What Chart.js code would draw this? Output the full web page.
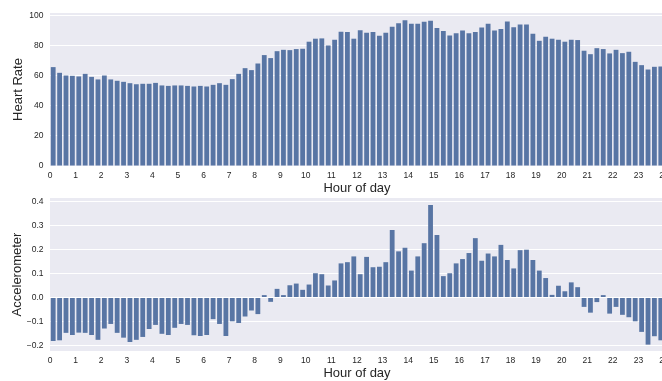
<!DOCTYPE html>
<html>
<head>
<meta charset="utf-8">
<script src="https://cdn.jsdelivr.net/npm/chart.js@4.4.1/dist/chart.umd.min.js"></script>
<style>
html, body { margin: 0; padding: 0; background: #fff; width: 662px; height: 381px; overflow: hidden; position: relative; }
canvas { position: absolute; left: 0; }
#hr { top: 0; }
#acc { top: 185px; }
</style>
</head>
<body>
<canvas id="hr" width="684" height="196"></canvas>
<canvas id="acc" width="684" height="196"></canvas>
<script>
// hour ticks on the x axis
const hourTicks = [0,1,2,3,4,5,6,7,8,9,10,11,12,13,14,15,16,17,18,19,20,21,22,23,24];
const hrTicks = [0, 20, 40, 60, 80, 100];
const accTicks = [-0.2, -0.1, 0, 0.1, 0.2, 0.3, 0.4];

// one value per quarter hour
const heartRate = [
  65.8,62,60.2,60,59.6,61.3,59.3,57.6,60.2,57.6,56.7,56,55.1,54.4,54.7,54.7,
  55.3,53.6,53.3,53.6,53.6,53.3,52.9,53.3,52.9,54,55.1,54,57.8,61.3,65.1,63.8,
  68.2,73.8,71.8,76.4,77.3,77.1,77.8,78,82.7,84.7,84.9,80.2,84,89.3,89.1,84.7,
  90.4,88.7,89.1,86.7,88.7,92.7,94.9,96.9,94.7,94.7,96,96.7,91.8,89.8,86.9,88.4,
  90.2,88.4,89.1,92.2,94.7,90.2,91.1,96.2,92.4,94.2,94.2,88,83.3,86,84.7,84,
  82.7,84,83.8,76.7,74.4,78.4,77.8,74.9,77.3,75.1,76,69.3,67.1,64.2,66,66.2
];
const accelerometer = [
  -0.181,-0.178,-0.147,-0.156,-0.146,-0.147,-0.156,-0.176,-0.129,-0.110,-0.147,-0.167,-0.185,-0.176,-0.164,-0.131,
  -0.114,-0.151,-0.156,-0.126,-0.110,-0.114,-0.157,-0.160,-0.156,-0.090,-0.110,-0.160,-0.099,-0.106,-0.079,-0.054,
  -0.069,0.010,-0.018,0.036,0.010,0.051,0.058,0.032,0.054,0.101,0.097,0.050,0.071,0.142,0.147,0.171,
  0.097,0.169,0.126,0.128,0.147,0.281,0.192,0.207,0.112,0.171,0.226,0.385,0.260,0.089,0.101,0.142,
  0.160,0.185,0.247,0.153,0.183,0.171,0.219,0.156,0.121,0.197,0.199,0.156,0.112,0.081,0.011,0.049,
  0.026,0.063,0.043,-0.039,-0.063,-0.019,0.010,-0.067,-0.039,-0.072,-0.082,-0.099,-0.143,-0.196,-0.161,-0.178
];

const FONT = 'Liberation Sans, Arial, sans-serif';
const TEXT = '#262626';

// axes background (seaborn darkgrid)
const bgPlugin = {
  id: 'bg',
  beforeDraw(chart) {
    const {ctx, chartArea: a} = chart;
    ctx.save();
    ctx.fillStyle = '#eaeaf2';
    ctx.fillRect(a.left, a.top, a.width, a.height);
    ctx.restore();
  }
};

function makeChart(id, values, yMin, yMax, yTickVals, yTitle, titlePad, fmt) {
  new Chart(document.getElementById(id), {
    type: 'bar',
    data: {
      datasets: [{
        data: values.map((v, i) => ({x: (i + 0.5) / 4, y: v})),
        backgroundColor: '#5875a4',
        barPercentage: 0.75,
        categoryPercentage: 1
      }]
    },
    options: {
      responsive: false,
      animation: false,
      layout: {padding: {left: 0, right: 20, top: 13, bottom: 0}},
      plugins: {legend: {display: false}, tooltip: {enabled: false}},
      scales: {
        x: {
          type: 'linear', min: 0, max: 24, offset: false,
          grid: {display: false, drawTicks: false},
          border: {display: false},
          afterBuildTicks: a => { a.ticks = hourTicks.map(v => ({value: v})); },
          afterFit: a => { a.height = 30; },
          ticks: {padding: 5, color: TEXT, font: {family: FONT, size: 8.5}, maxRotation: 0, autoSkip: false},
          title: {display: true, text: 'Hour of day', color: TEXT, font: {family: FONT, size: 13}, padding: 0}
        },
        y: {
          min: yMin, max: yMax,
          grid: {color: '#ffffff', lineWidth: 1, drawTicks: false},
          border: {display: false},
          afterBuildTicks: a => { a.ticks = yTickVals.map(v => ({value: v})); },
          afterFit: a => { a.width = 50; },
          ticks: {padding: 6.5, color: TEXT, font: {family: FONT, size: 8.5}, callback: fmt},
          title: {display: true, text: yTitle, color: TEXT, font: {family: FONT, size: 13}, padding: {top: titlePad, bottom: 0}}
        }
      }
    },
    plugins: [bgPlugin]
  });
}

makeChart('hr', heartRate, 0, 101.8, hrTicks, 'Heart Rate', 11, v => String(v));
makeChart('acc', accelerometer, -0.2225, 0.414, accTicks, 'Accelerometer', 9.5,
  v => (v < -1e-9 ? '\u2212' : '') + Math.abs(v).toFixed(1));
</script>
</body>
</html>
